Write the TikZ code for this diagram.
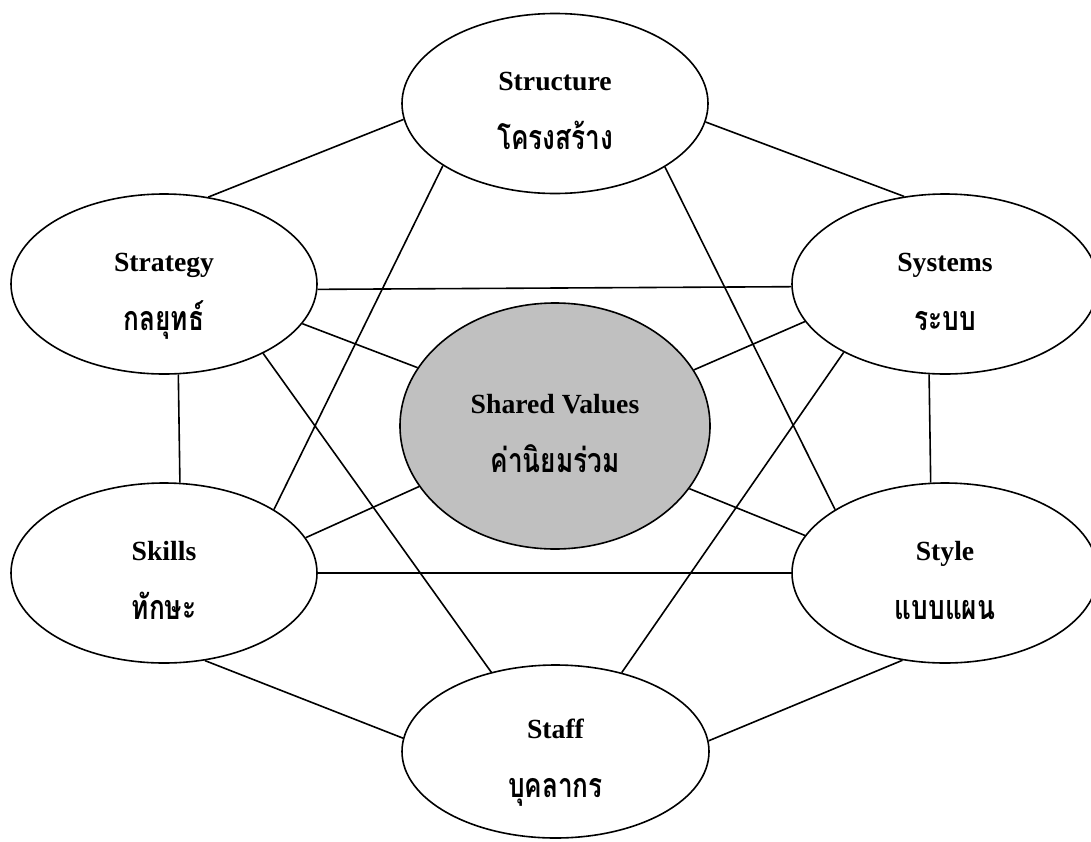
\documentclass[tikz,border=0pt]{standalone}
\usepackage{fontspec}
\setmainfont{Liberation Serif}
\newfontfamily\thaifont[Script=Thai,FakeStretch=0.77]{Loma}
\usetikzlibrary{shapes.geometric}
\definecolor{sharedgray}{HTML}{C0C0C0}
\begin{document}
\begin{tikzpicture}[x=1pt,y=-1pt,
  ell/.style={draw, line width=1.6pt, ellipse, inner sep=0pt,
              minimum width=306pt, minimum height=180pt},
  link/.style={line width=1.6pt},
  en/.style={anchor=base, inner sep=0pt,
             font=\fontsize{27.7}{30}\selectfont\bfseries},
  th/.style={anchor=base, inner sep=0pt,
             font=\thaifont\fontsize{34}{36}\selectfont\bfseries}]
\useasboundingbox (0,0) rectangle (1091,841);

% the seven elements
\node[ell] (str) at (555,103.5) {};
\node[ell] (stg) at (164,284) {};
\node[ell] (sys) at (945,284) {};
\node[ell, fill=sharedgray, minimum width=310pt, minimum height=246pt] (sv) at (555,426) {};
\node[ell] (skl) at (164,573) {};
\node[ell] (sty) at (945,573) {};
\node[ell, minimum width=307pt, minimum height=173pt] (stf) at (555.5,751.5) {};

% labels
\node[en] (str-en) at ([yshift=13pt]str.center) {Structure};
\node[th] (str-th) at ([yshift=-46pt]str.center) {โครงสร้าง};
\node[en] (stg-en) at ([yshift=13pt]stg.center) {Strategy};
\node[th] (stg-th) at ([yshift=-46pt]stg.center) {กลยุทธ์};
\node[en] (sys-en) at ([yshift=13pt]sys.center) {Systems};
\node[th] (sys-th) at ([yshift=-46pt]sys.center) {ระบบ};
\node[en] (sv-en) at ([yshift=13pt]sv.center) {Shared Values};
\node[th] (sv-th) at ([yshift=-46pt]sv.center) {ค่านิยมร่วม};
\node[en] (skl-en) at ([yshift=13pt]skl.center) {Skills};
\node[th] (skl-th) at ([yshift=-46pt]skl.center) {ทักษะ};
\node[en] (sty-en) at ([yshift=13pt]sty.center) {Style};
\node[th] (sty-th) at ([yshift=-46pt]sty.center) {แบบแผน};
\node[en] (stf-en) at ([yshift=13pt]stf.center) {Staff};
\node[th] (stf-th) at ([yshift=-46pt]stf.center) {บุคลากร};

% connections
\draw[link] (str.186.6) -- (stg.63.7);
\draw[link] (str.353.4) -- (sys.115.8);
\draw[link] (str.209.2) -- (skl.30);
\draw[link] (str.330.8) -- (sty.150);
\draw[link] (stg.358.9) -- (sys.181.1);
\draw[link] (stg.344.5) -- (sv.157.6);
\draw[link] (stg.279.2) -- (skl.80.8);
\draw[link] (stg.325.1) -- (stf.129.5);
\draw[link] (sys.195.5) -- (sv.22.4);
\draw[link] (sys.260.8) -- (sty.99.2);
\draw[link] (sys.214.9) -- (stf.50.5);
\draw[link] (sv.204.2) -- (skl.14.5);
\draw[link] (sv.335.8) -- (sty.165.5);
\draw[link] (skl.0) -- (sty.180);
\draw[link] (skl.295.5) -- (stf.175.3);
\draw[link] (sty.244.5) -- (stf.4.7);
\end{tikzpicture}
\end{document}
